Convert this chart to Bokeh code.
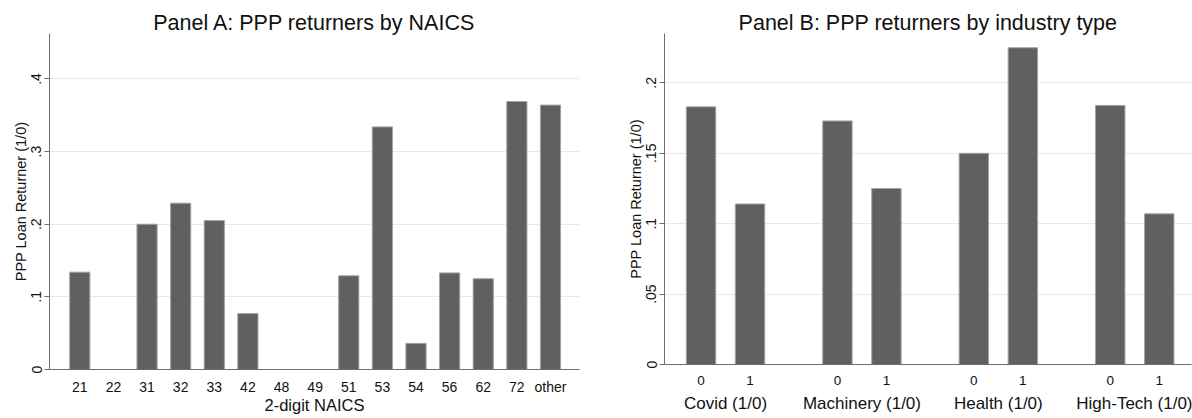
from bokeh.embed import file_html
from bokeh.layouts import row
from bokeh.models import ColumnDataSource, FixedTicker, LinearAxis, Range1d
from bokeh.plotting import figure
from bokeh.resources import INLINE

# ---- Panel A: share of PPP loan returners by 2-digit NAICS ----
naics_codes = ["21", "22", "31", "32", "33", "42", "48", "49",
               "51", "53", "54", "56", "62", "72", "other"]
naics_returner_share = [0.134, 0.0, 0.200, 0.229, 0.205, 0.077, 0.0, 0.0,
                        0.129, 0.334, 0.036, 0.133, 0.125, 0.369, 0.364]
panel_a_yticks = [0, 0.1, 0.2, 0.3, 0.4]
panel_a_ytick_labels = ["0", ".1", ".2", ".3", ".4"]

# ---- Panel B: share of PPP loan returners by industry indicator ----
industry_groups = ["Covid (1/0)", "Machinery (1/0)", "Health (1/0)", "High-Tech (1/0)"]
indicator_levels = ["0", "1"]
share_indicator_0 = [0.183, 0.173, 0.150, 0.184]
share_indicator_1 = [0.114, 0.125, 0.225, 0.107]
panel_b_yticks = [0, 0.05, 0.1, 0.15, 0.2]
panel_b_ytick_labels = ["0", ".05", ".1", ".15", ".2"]

FONT = "Liberation Sans"
TEXT = "#111111"
BAR_FILL = "#606060"
BAR_EDGE = "#a3a3a3"
AXIS_COLOR = "#6e6e6e"
GRID_COLOR = "#e8e8e8"
BAR_WIDTH = 0.6
GROUP_STEP = 2.784  # distance between industry groups, in bar slots


def style_common(p, yticks, ylabels, title_text):
    p.title.text = title_text
    p.title.text_font = FONT
    p.title.text_font_size = "21.5px"
    p.title.text_font_style = "normal"
    p.title.text_color = TEXT
    p.title.align = "center"
    p.title.standoff = -3

    p.outline_line_color = None
    p.background_fill_color = "white"
    p.border_fill_color = "white"
    p.xgrid.visible = False
    p.ygrid.ticker = FixedTicker(ticks=yticks)
    p.ygrid.grid_line_color = GRID_COLOR
    p.ygrid.grid_line_width = 1

    ya = p.yaxis[0]
    ya.ticker = FixedTicker(ticks=yticks, minor_ticks=[])
    ya.major_label_overrides = dict(zip(yticks, ylabels))
    ya.major_label_orientation = "vertical"
    ya.major_label_text_font = FONT
    ya.major_label_text_font_size = "14px"
    ya.major_label_text_color = TEXT
    ya.major_label_standoff = 3
    ya.major_tick_out = 5
    ya.major_tick_in = 0
    ya.minor_tick_line_color = None
    ya.axis_line_color = AXIS_COLOR
    ya.major_tick_line_color = AXIS_COLOR
    ya.axis_label = "PPP Loan Returner (1/0)"
    ya.axis_label_text_font = FONT
    ya.axis_label_text_font_size = "14.5px"
    ya.axis_label_text_font_style = "normal"
    ya.axis_label_text_color = TEXT
    ya.axis_label_standoff = 0

    xa = p.xaxis[0]
    xa.major_tick_out = 0
    xa.major_tick_in = 0
    xa.minor_tick_line_color = None
    xa.axis_line_color = AXIS_COLOR
    xa.major_label_text_font = FONT
    xa.major_label_text_color = TEXT
    xa.axis_label_text_font = FONT
    xa.axis_label_text_font_style = "normal"
    xa.axis_label_text_color = TEXT


# ---------------- Panel A ----------------
a_x = list(range(1, len(naics_codes) + 1))
src_a = ColumnDataSource(dict(x=a_x, share=naics_returner_share, code=naics_codes))

pa = figure(
    frame_width=530, frame_height=336,
    min_border_left=49, min_border_right=21, min_border_top=32, min_border_bottom=50,
    x_range=Range1d(0.099, 15.863), y_range=Range1d(0, 0.4626),
    output_backend="svg", toolbar_location=None,
)
pa.vbar(x="x", top="share", width=BAR_WIDTH, bottom=0, source=src_a,
        fill_color=BAR_FILL, line_color=BAR_EDGE, line_width=1)
style_common(pa, panel_a_yticks, panel_a_ytick_labels, "Panel A: PPP returners by NAICS")
xa = pa.xaxis[0]
xa.ticker = FixedTicker(ticks=a_x, minor_ticks=[])
xa.major_label_overrides = dict(zip(a_x, naics_codes))
xa.major_label_text_font_size = "14px"
xa.major_label_standoff = 9
xa.axis_label = "2-digit NAICS"
xa.axis_label_text_font_size = "16.5px"
xa.axis_label_standoff = -2

# ---------------- Panel B ----------------
b_x, b_top, b_lab = [], [], []
for g, (s0, s1) in enumerate(zip(share_indicator_0, share_indicator_1)):
    for k, s in enumerate((s0, s1)):
        b_x.append(round(g * GROUP_STEP + k, 3))
        b_top.append(s)
        b_lab.append(indicator_levels[k])
group_centers = [round(g * GROUP_STEP + 0.5, 3) for g in range(len(industry_groups))]
src_b = ColumnDataSource(dict(x=b_x, share=b_top, level=b_lab))

pb = figure(
    frame_width=527, frame_height=331,
    min_border_left=64, min_border_right=1, min_border_top=33, min_border_bottom=54,
    x_range=Range1d(-0.745, 10.01), y_range=Range1d(0, 0.2351),
    output_backend="svg", toolbar_location=None,
)
pb.vbar(x="x", top="share", width=BAR_WIDTH, bottom=0, source=src_b,
        fill_color=BAR_FILL, line_color=BAR_EDGE, line_width=1)
style_common(pb, panel_b_yticks, panel_b_ytick_labels, "Panel B: PPP returners by industry type")
xb = pb.xaxis[0]
xb.ticker = FixedTicker(ticks=b_x, minor_ticks=[])
xb.major_label_overrides = dict(zip(b_x, b_lab))
xb.major_label_text_font_size = "13.5px"
xb.major_label_standoff = 11

group_axis = LinearAxis(
    ticker=FixedTicker(ticks=group_centers, minor_ticks=[]),
    major_label_overrides=dict(zip(group_centers, industry_groups)),
    axis_line_color=None, major_tick_line_color=None, minor_tick_line_color=None,
    major_tick_out=0, major_tick_in=0,
    major_label_text_font=FONT, major_label_text_font_size="17px",
    major_label_text_color=TEXT, major_label_standoff=6,
)
pb.add_layout(group_axis, "below")

layout = row(pa, pb, spacing=0)
with open("out.html", "w") as f:
    f.write(file_html(layout, INLINE))
